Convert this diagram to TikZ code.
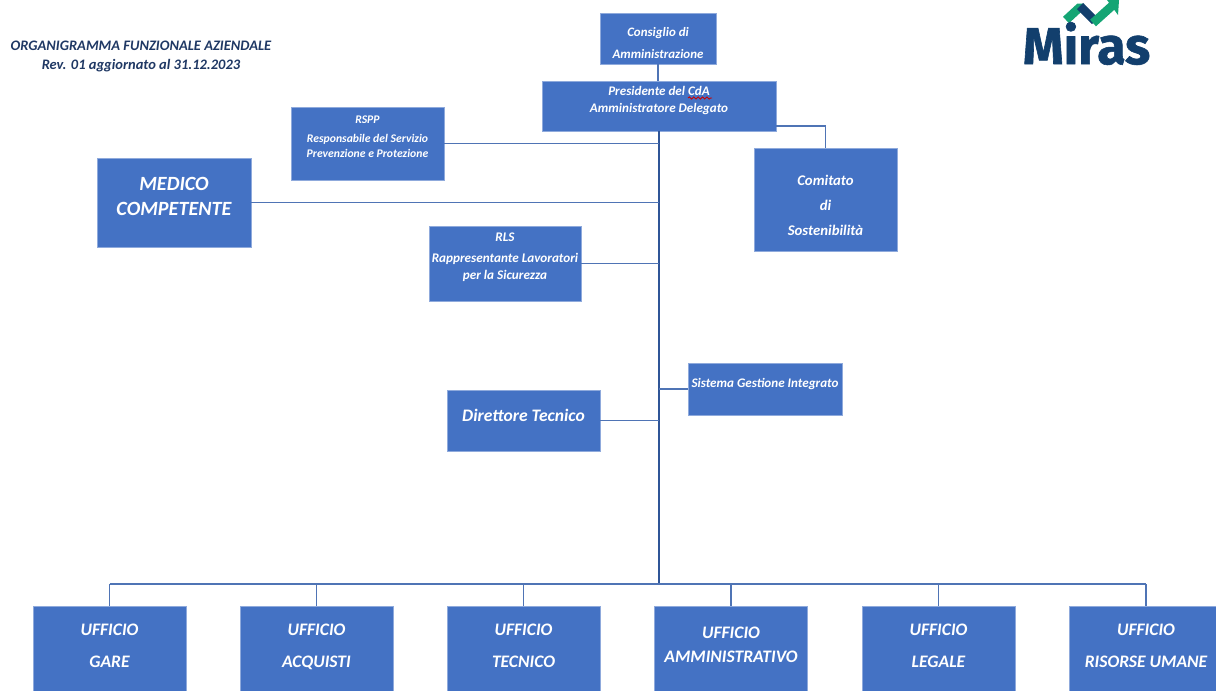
\documentclass[tikz,border=0pt]{standalone}
\usepackage{fontspec}
\setmainfont{Carlito}
\newfontfamily\logofont[FakeBold=1.2]{Fira Sans}
\usepackage{xcolor}
\usetikzlibrary{decorations.pathmorphing}
\definecolor{boxblue}{HTML}{4472C4}
\definecolor{edgeblue}{HTML}{8FAADC}
\definecolor{lineblue}{HTML}{4F74B5}
\definecolor{spineblue}{HTML}{2F5597}
\definecolor{titlenavy}{HTML}{1F3864}
\definecolor{logonavy}{HTML}{123F6D}
\definecolor{logogreen}{HTML}{14A574}
\tikzset{
  orgbox/.style={draw=edgeblue,fill=boxblue,text=white,align=center,inner sep=0pt,line width=0.5pt},
  office/.style={orgbox,minimum width=3.06cm,minimum height=1.76cm,font=\itshape\bfseries\fontsize{10}{18.1}\selectfont},
  link/.style={lineblue,line width=0.6pt},
  spine/.style={spineblue,line width=1.1pt}
}

\begin{document}
\begin{tikzpicture}[x=0.02cm,y=-0.02cm]
\useasboundingbox (0,0) rectangle (1216,690);

\node[titlenavy,font=\itshape\bfseries\fontsize{8.25}{10.6}\selectfont,align=center] (title) at (141,56.5) {ORGANIGRAMMA FUNZIONALE AZIENDALE\\Rev. 01 aggiornato al 31.12.2023};

\node[orgbox,minimum width=2.32cm,minimum height=1.02cm,font=\itshape\bfseries\fontsize{7.35}{12.5}\selectfont] (cda) at (658,38.5) {\rule{0pt}{10.8pt}Consiglio di\\Amministrazione};
\node[orgbox,minimum width=4.68cm,minimum height=1cm,font=\itshape\bfseries\fontsize{7.45}{9.6}\selectfont] (pres) at (659,106) {Presidente del CdA\\Amministratore Delegato\\[-1.6pt]};
\node[orgbox,minimum width=3.06cm,minimum height=1.46cm,font=\itshape\bfseries\fontsize{6.65}{8.4}\selectfont] (rspp) at (367.5,143.5) {RSPP\\[2.4pt]Responsabile del Servizio\\Prevenzione e Protezione\\[-0.4pt]};
\node[orgbox,minimum width=3.08cm,minimum height=1.78cm,font=\itshape\bfseries\fontsize{11.5}{14.2}\selectfont] (medico) at (174,202.5) {MEDICO\\COMPETENTE\\[-7.4pt]};
\node[orgbox,minimum width=2.86cm,minimum height=2.06cm,font=\itshape\bfseries\fontsize{8.4}{14.2}\selectfont] (comitato) at (825.5,199.5) {\rule{0pt}{12.4pt}Comitato\\di\\Sostenibilità};
\node[orgbox,minimum width=3.04cm,minimum height=1.5cm,font=\itshape\bfseries\fontsize{7.5}{9.6}\selectfont] (rls) at (505,263.5) {RLS\\[2.3pt]Rappresentante Lavoratori\\per la Sicurezza\\[-1.1pt]};
\node[orgbox,minimum width=3.08cm,minimum height=1.04cm,font=\itshape\bfseries\fontsize{7.45}{9}\selectfont] (sgi) at (765,389) {Sistema Gestione Integrato\\[-2.2pt]};
\node[orgbox,minimum width=3.06cm,minimum height=1.22cm,font=\itshape\bfseries\fontsize{10}{11}\selectfont] (dir) at (523.5,420.5) {Direttore Tecnico\\[-5.3pt]};

\node[office] (gare) at (109.5,650) {UFFICIO\\GARE\\[-13.5pt]};
\node[office] (acquisti) at (316.5,650) {UFFICIO\\ACQUISTI\\[-13.5pt]};
\node[office] (tecnico) at (523.5,650) {UFFICIO\\TECNICO\\[-13.5pt]};
\node[office,font=\itshape\bfseries\fontsize{10}{13.6}\selectfont] (amm) at (731,650) {UFFICIO\\AMMINISTRATIVO\\[-7.9pt]};
\node[office] (legale) at (938.5,650) {UFFICIO\\LEGALE\\[-13.5pt]};
\node[office] (risorse) at (1146,650) {UFFICIO\\RISORSE UMANE\\[-13.5pt]};

\coordinate (bus) at (659,584);
\draw[link] (cda.south) -- (cda.south |- pres.north);
\draw[spine] (pres.south) -- (bus);
\coordinate (presout) at (776,126);
\draw[link] (presout) -| (comitato.north);
\draw[link] (rspp.east) -- (rspp.east -| bus);
\draw[link] (medico.east) -- (medico.east -| bus);
\draw[link] (rls.east) -- (rls.east -| bus);
\draw[link] (sgi.west) -- (sgi.west -| bus);
\draw[link] (dir.east) -- (dir.east -| bus);
\draw[link] (gare.north |- bus) -- (risorse.north |- bus);
\draw[link] (gare.north) -- (gare.north |- bus);
\draw[link] (acquisti.north) -- (acquisti.north |- bus);
\draw[link] (tecnico.north) -- (tecnico.north |- bus);
\draw[link] (amm.north) -- (amm.north |- bus);
\draw[link] (legale.north) -- (legale.north |- bus);
\draw[link] (risorse.north) -- (risorse.north |- bus);

%spelling mark under CdA
\draw[red!80!black,line width=0.5pt,decorate,decoration={snake,amplitude=0.6pt,segment length=2.5pt}] (688,98) -- (712,98);

%logo
\draw[logogreen,line width=5pt] (1066,20) -- (1079,8) -- (1084,8);
\draw[logonavy,line width=5pt] (1080,6) -- (1095,21);
\draw[logogreen,line width=5pt] (1093,23) -- (1113,5);
\fill[logogreen] (1107,0) -- (1119,0) -- (1118,15) -- cycle;
\node[logonavy,font=\logofont\bfseries\fontsize{29.5}{29.5}\selectfont,inner sep=0pt] (logo) at (1086.5,43.5) {Miras};
\end{tikzpicture}
\end{document}
